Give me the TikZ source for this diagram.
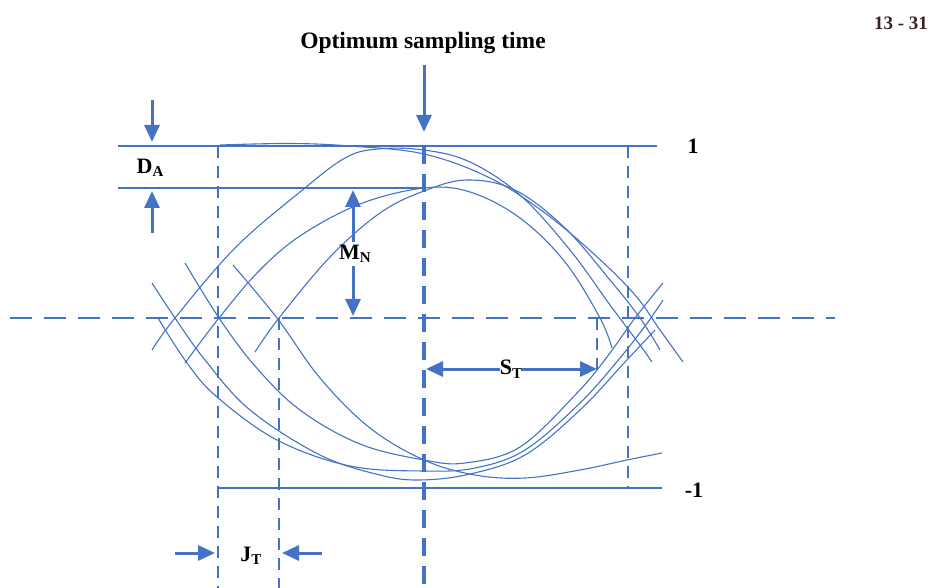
\documentclass[tikz,border=0pt]{standalone}
\usepackage{fontspec}
\setmainfont{Liberation Serif}
\usetikzlibrary{arrows.meta}
\definecolor{eyeblue}{RGB}{68,114,196}
\definecolor{pgnum}{RGB}{55,35,35}
\begin{document}
\begin{tikzpicture}[x=1pt,y=-1pt,
 trace/.style={eyeblue,line width=1.1pt},
 refline/.style={eyeblue,line width=1.6pt},
 axisdash/.style={eyeblue,line width=2.8pt,dash pattern=on 22pt off 12pt},
 centerdash/.style={eyeblue,line width=3.2pt,dash pattern=on 18pt off 10pt},
 guidedash/.style={eyeblue,line width=1.7pt,dash pattern=on 12pt off 8pt},
 arr/.style={eyeblue,line width=3pt,-{Triangle[length=17pt,width=15pt]}},
 lbl/.style={font=\fontsize{22}{26}\selectfont\bfseries,inner sep=1pt}]
\useasboundingbox (0,0) rectangle (935,588);

% reference lines
\coordinate (top1L) at (118,146); \coordinate (top1R) at (657,146);
\coordinate (top2L) at (118,188); \coordinate (top2R) at (424,188);
\coordinate (botL) at (218,488); \coordinate (botR) at (662,488);
\draw[refline] (top1L) -- (top1R);
\draw[refline] (top2L) -- (top2R);
\draw[refline] (botL) -- (botR);

% dashed guides
\coordinate (axL) at (10,318); \coordinate (axR) at (835,318);
\draw[axisdash] (axL) -- (axR);
\coordinate (cT) at (424,146); \coordinate (cB) at (424,588);
\draw[centerdash] (cT) -- (cB);
\coordinate (g1T) at (218,146); \coordinate (g1B) at (218,588);
\draw[guidedash] (g1T) -- (g1B);
\coordinate (g2T) at (279,318); \coordinate (g2B) at (279,588);
\draw[guidedash] (g2T) -- (g2B);
\coordinate (g3T) at (628,146); \coordinate (g3B) at (628,488);
\draw[guidedash] (g3T) -- (g3B);
\coordinate (g4T) at (597,318); \coordinate (g4B) at (597,374);
\draw[guidedash] (g4T) -- (g4B);

% eye traces (upper)
\draw[trace] plot[smooth,tension=0.6] coordinates {(220,145) (290,143.5) (350,146) (424,154) (490,178) (545,213) (595,255) (635,295) (660,330) (683,362)};
\draw[trace] plot[smooth,tension=0.6] coordinates {(152,350) (175,318) (235,248) (300,192) (345,158) (378,149) (424,150) (470,162) (520,195) (570,250) (610,305) (640,345) (652,362)};
\draw[trace] plot[smooth,tension=0.6] coordinates {(185,363) (219,318) (258,272) (300,236) (360,204) (424,188) (470,192) (520,218) (565,262) (600,318) (612,348)};
\draw[trace] plot[smooth,tension=0.6] coordinates {(255,352) (279,318) (330,257) (380,213) (424,191) (467,180) (515,190) (565,228) (610,280) (640,318) (660,350)};
% eye traces (lower)
\draw[trace] plot[smooth,tension=0.6] coordinates {(152,283) (175,318) (205,360) (250,410) (320,455) (380,475) (420,480) (470,474) (525,455) (580,410) (625,362) (655,330)};
\draw[trace] plot[smooth,tension=0.6] coordinates {(185,263) (219,318) (255,366) (300,410) (360,444) (424,460) (465,463) (520,447) (577,393) (607,357) (635,318) (663,283)};
\draw[trace] plot[smooth,tension=0.6] coordinates {(233,265) (277,318) (320,378) (370,428) (424,460) (475,475) (525,478) (580,470) (627,460) (662,453)};
\draw[trace] plot[smooth,tension=0.6] coordinates {(158,318) (187,363) (217,397) (277,440) (350,466) (424,471) (475,468) (525,450) (580,403) (620,358) (648,322) (663,300)};

% labels
\node[font=\fontsize{23.5}{28}\selectfont\bfseries,inner sep=0pt] (title) at (423,43) {Optimum sampling time};
\node[font=\fontsize{19}{22}\selectfont\bfseries,text=pgnum,inner sep=0pt] (pg) at (901,23) {13 - 31};
\node[lbl] (one) at (693,146) {1};
\node[lbl] (mone) at (694,490) {-1};
\node[lbl] (da) at (150,168) {D\raisebox{-0.25ex}{\fontsize{15}{15}\selectfont A}};
\node[lbl,inner sep=3pt] (mn) at (355,254) {M\raisebox{-0.25ex}{\fontsize{15}{15}\selectfont N}};
\node[lbl,fill=white,inner sep=0pt] (st) at (511,369) {S\raisebox{-0.35ex}{\fontsize{15}{15}\selectfont T}};
\node[lbl] (jt) at (251,556) {J\raisebox{-0.25ex}{\fontsize{15}{15}\selectfont T}};

% arrows
\coordinate (optTail) at (424,65); \coordinate (optTip) at (424,132);
\draw[arr] (optTail) -- (optTip);
\coordinate (daTail1) at (152,100); \coordinate (daTip1) at (152,142);
\draw[arr] (daTail1) -- (daTip1);
\coordinate (daTail2) at (152,233); \coordinate (daTip2) at (152,191);
\draw[arr] (daTail2) -- (daTip2);
\coordinate (mnTop) at (353,190); \coordinate (mnBot) at (353,316);
\draw[arr] (mn.north -| mnTop) -- (mnTop);
\draw[arr] (mn.south -| mnBot) -- (mnBot);
\coordinate (stL) at (426,369); \coordinate (stR) at (597,369);
\draw[arr] (st.west) -- (stL);
\draw[arr] (st.east) -- (stR);
\coordinate (jtTailL) at (175,553); \coordinate (jtTipL) at (215,553);
\draw[arr] (jtTailL) -- (jtTipL);
\coordinate (jtTailR) at (322,553); \coordinate (jtTipR) at (282,553);
\draw[arr] (jtTailR) -- (jtTipR);
\end{tikzpicture}
\end{document}
